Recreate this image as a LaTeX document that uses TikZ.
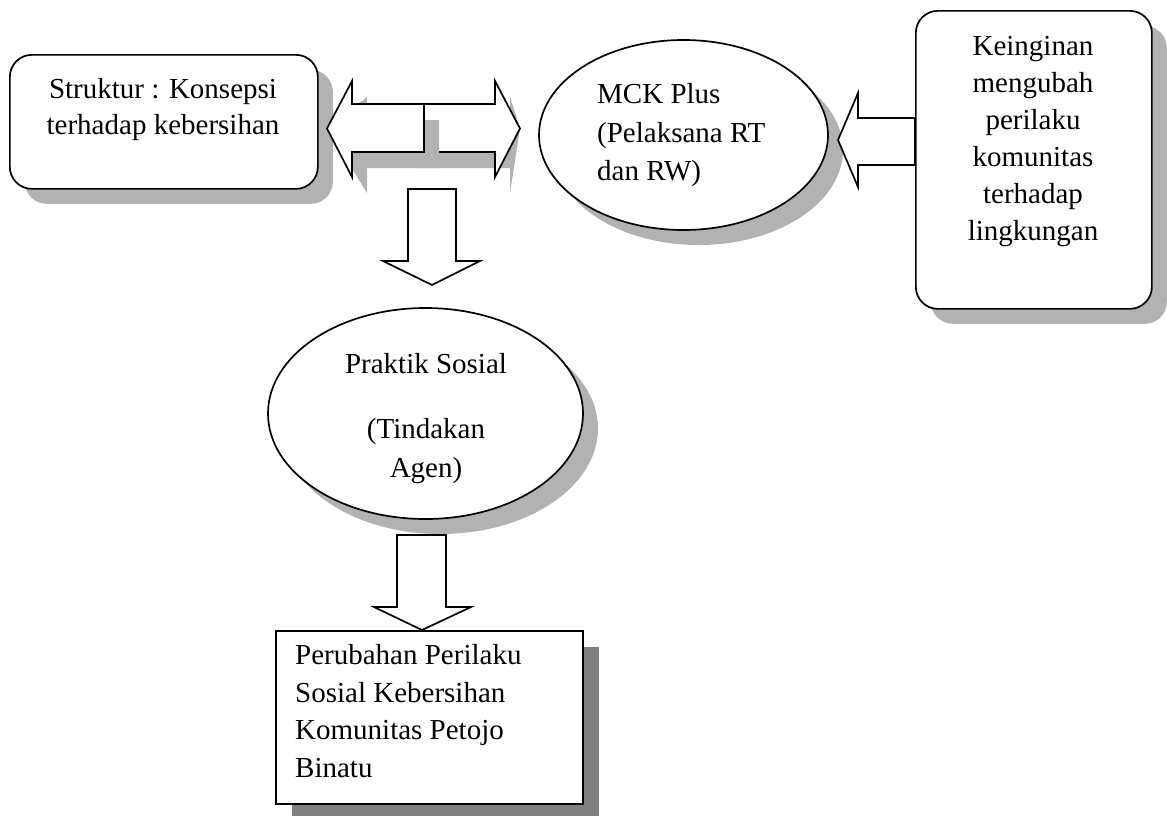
\documentclass[tikz,border=0pt]{standalone}
\usepackage{fontspec}
\setmainfont{Liberation Serif}
\usetikzlibrary{shapes.geometric,shadows}
\definecolor{shadelight}{gray}{0.70}
\definecolor{shadedark}{gray}{0.50}
\begin{document}
\begin{tikzpicture}[x=1pt,y=-1pt,
  outline/.style={draw=black,line width=1.7pt,fill=white},
  softshadow/.style={drop shadow={opacity=1,fill=shadelight,shadow xshift=15pt,shadow yshift=-15pt}},
  hardshadow/.style={drop shadow={opacity=1,fill=shadedark,shadow xshift=16pt,shadow yshift=-16pt}},
  roundbox/.style={outline,softshadow,rounded corners=22pt,anchor=north west},
  oval/.style={outline,softshadow,ellipse,inner sep=0pt},
  blockarrow/.style={outline,line join=miter},
  arrowshade/.style={fill=shadelight,draw=none,shift={(15,16)}},
  txt/.style={inner sep=0pt,font=\fontsize{29}{37}\selectfont},
]
\useasboundingbox (0,0) rectangle (1167,815);

% ---- boxes and ovals ----
\node[roundbox,minimum width=308pt,minimum height=134pt] (struktur) at (9,54) {};
\node[roundbox,minimum width=236pt,minimum height=298pt] (keinginan) at (915,10) {};
\node[oval,minimum width=289pt,minimum height=190pt] (mck) at (683.5,135) {};
\node[oval,minimum width=315pt,minimum height=211pt] (praktik) at (425.5,413.5) {};
\node[outline,hardshadow,anchor=north west,minimum width=307pt,minimum height=173pt] (hasil) at (275,630) {};

% ---- texts ----
\node[txt,align=center,anchor=north,font=\fontsize{29}{36}\selectfont] (tStruktur) at (163,78.2)
  {Struktur : Konsepsi\\terhadap kebersihan};
\node[txt,align=center,anchor=north] (tKeinginan) at (1033,36.2)
  {Keinginan\\mengubah\\perilaku\\komunitas\\terhadap\\lingkungan};
\node[txt,align=left,anchor=north west,font=\fontsize{29}{38.5}\selectfont] (tMck) at (597,83.4)
  {MCK Plus\\(Pelaksana RT\\dan RW)};
\node[txt,align=center,anchor=north,font=\fontsize{29}{39}\selectfont] (tPraktik) at (426,353.2)
  {Praktik Sosial\\[26pt](Tindakan\\Agen)};
\node[txt,align=left,anchor=north west,font=\fontsize{29}{37.5}\selectfont] (tHasil) at (295,644.4)
  {Perubahan Perilaku\\Sosial Kebersihan\\Komunitas Petojo\\Binatu};

% ---- block arrows ----
% double arrow between struktur and mck: right half first, then left half on top
\coordinate (dRight) at (520,128.5);
\coordinate (dLeft) at (327,128.5);
\fill[arrowshade] (400,104) -- (495,104) -- (495,81) -- (dRight) -- (495,177) -- (495,152) -- (400,152) -- cycle;
\draw[blockarrow] (400,104) -- (495,104) -- (495,81) -- (dRight) -- (495,177) -- (495,152) -- (400,152) -- cycle;
\fill[arrowshade] (dLeft) -- (352,81) -- (352,104) -- (424,104) -- (424,152) -- (352,152) -- (352,177) -- cycle;
\draw[blockarrow] (dLeft) -- (352,81) -- (352,104) -- (424,104) -- (424,152) -- (352,152) -- (352,177) -- cycle;

% arrow from keinginan into mck
\coordinate (kTip) at (838,140);
\draw[blockarrow] (keinginan.west |- 0,118) -- (858,118) -- (858,93) -- (kTip) -- (858,187) -- (858,165) -- (keinginan.west |- 0,165) -- cycle;

% arrow down to praktik
\coordinate (pTip) at (432,285);
\draw[blockarrow] (408,189) -- (456,189) -- (456,261) -- (480,261) -- (pTip) -- (383,261) -- (408,261) -- cycle;

% arrow down to hasil
\coordinate (hTip) at (hasil.north -| 422,0);
\draw[blockarrow] (397,535) -- (446,535) -- (446,607) -- (471,607) -- (hTip) -- (374,607) -- (397,607) -- cycle;
\end{tikzpicture}
\end{document}
